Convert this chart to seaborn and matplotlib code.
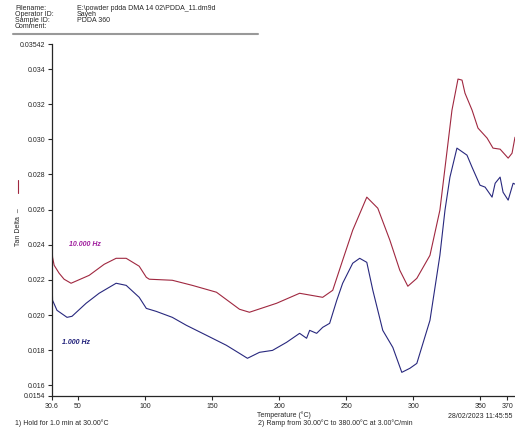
import matplotlib
matplotlib.use('Agg')
import matplotlib.pyplot as plt
import seaborn as sns
import pandas as pd
from matplotlib.lines import Line2D

# Tan delta readings from the DMA run, 10 Hz curve
temp_10hz = [30.6, 31.0, 32.2, 35.9, 39.6, 44.8, 58.3, 69.5, 78.4, 85.9, 95.6, 100.9, 103.1,
             120.3, 135.2, 153.2, 170.4, 177.8, 198.0, 215.2, 232.4, 239.9, 247.3, 254.8,
             265.3, 273.5, 282.5, 289.9, 295.9, 302.6, 312.4, 319.8, 328.8, 333.3, 336.3,
             338.5, 343.8, 348.2, 355.0, 359.4, 364.7, 370.7, 373.6, 375.8]
tan_10hz = [0.02392, 0.02329, 0.02283, 0.02238, 0.02204, 0.02181, 0.02226, 0.02289, 0.02323,
            0.02323, 0.02278, 0.02215, 0.02204, 0.02198, 0.02169, 0.02130, 0.02033, 0.02016,
            0.02067, 0.02124, 0.02101, 0.02141, 0.02312, 0.02483, 0.02671, 0.02608, 0.02426,
            0.02255, 0.02164, 0.02209, 0.02340, 0.02597, 0.03166, 0.03343, 0.03337, 0.03263,
            0.03166, 0.03064, 0.03007, 0.02950, 0.02944, 0.02893, 0.02921, 0.03012]

# 1 Hz curve
temp_1hz = [30.6, 31.0, 34.3, 41.8, 45.5, 56.0, 65.7, 78.4, 85.9, 95.6, 100.9, 108.3, 120.3,
            130.7, 145.7, 160.6, 170.4, 176.3, 185.3, 195.0, 205.5, 215.2, 220.4, 222.7,
            227.9, 232.4, 237.6, 242.9, 247.3, 254.8, 260.0, 265.3, 269.8, 277.2, 284.7,
            291.4, 297.4, 302.6, 312.4, 319.8, 323.6, 327.3, 332.5, 340.0, 343.8, 349.7,
            353.5, 358.7, 361.0, 364.7, 366.9, 370.7, 374.4, 375.8]
tan_1hz = [0.02226, 0.02084, 0.02027, 0.01987, 0.01993, 0.02067, 0.02124, 0.02181, 0.02169,
           0.02101, 0.02038, 0.02021, 0.01987, 0.01942, 0.01885, 0.01828, 0.01782, 0.01754,
           0.01788, 0.01799, 0.01845, 0.01896, 0.01868, 0.01913, 0.01896, 0.01930, 0.01953,
           0.02084, 0.02181, 0.02295, 0.02323, 0.02300, 0.02141, 0.01913, 0.01816, 0.01674,
           0.01697, 0.01725, 0.01970, 0.02340, 0.02597, 0.02785, 0.02950, 0.02910, 0.02841,
           0.02739, 0.02728, 0.02671, 0.02750, 0.02785, 0.02699, 0.02654, 0.02750, 0.02745]

# Axis ticks as printed on the instrument report
x_ticks = [30.6, 50, 100, 150, 200, 250, 300, 350, 370]
x_labels = ['30.6', '50', '100', '150', '200', '250', '300', '350', '370']
y_ticks = [0.0154, 0.016, 0.018, 0.020, 0.022, 0.024, 0.026, 0.028, 0.030, 0.032, 0.034, 0.03542]
y_labels = ['0.0154', '0.016', '0.018', '0.020', '0.022', '0.024', '0.026', '0.028',
            '0.030', '0.032', '0.034', '0.03542']

# Long form table for seaborn
df = pd.concat([
    pd.DataFrame({'temp': temp_10hz, 'tan_delta': tan_10hz, 'freq': '10.000 Hz'}),
    pd.DataFrame({'temp': temp_1hz, 'tan_delta': tan_1hz, 'freq': '1.000 Hz'}),
])

sns.set_style('ticks')
plt.rcParams['font.family'] = ['Liberation Sans', 'DejaVu Sans']

fig = plt.figure(figsize=(5.15, 4.28), dpi=100)
ax = fig.add_axes([0.101, 0.075, 0.899, 0.822])

sns.lineplot(data=df, x='temp', y='tan_delta', hue='freq', sort=False,
             palette={'10.000 Hz': '#a02840', '1.000 Hz': '#28287e'},
             linewidth=0.8, legend=False, ax=ax)

ax.set_xlim(30.6, 375.8)
ax.set_ylim(0.0154, 0.03542)
ax.set_xticks(x_ticks)
ax.set_xticklabels(x_labels)
ax.set_yticks(y_ticks)
ax.set_yticklabels(y_labels)
ax.tick_params(labelsize=5, length=3, width=0.8, pad=2)
ax.set_xlabel('Temperature (°C)', fontsize=5, labelpad=1)
ax.set_ylabel('')
sns.despine(ax=ax)
for s in ['left', 'bottom']:
    ax.spines[s].set_linewidth(0.9)

# Curve labels
ax.text(43.3, 0.02403, '10.000 Hz', color='#a01e9e', fontsize=5, fontweight='bold',
        style='italic', va='center')
ax.text(38.1, 0.01845, '1.000 Hz', color='#20207a', fontsize=5, fontweight='bold',
        style='italic', va='center')

# Y axis title with the little legend line
fig.text(0.035, 0.47, 'Tan Delta  –', rotation=90, fontsize=5, ha='center', va='center')
fig.add_artist(Line2D([0.035, 0.035], [0.55, 0.58], color='#a02840', linewidth=0.8))

# Header block
hdr = [('Filename:', 'E:\\powder pdda DMA 14 02\\PDDA_11.dm9d'),
       ('Operator ID:', 'Sayeh'),
       ('Sample ID:', 'PDDA 360'),
       ('Comment:', '')]
for i, (k, v) in enumerate(hdr):
    yy = 1 - (9 + i * 6) / 428
    fig.text(15 / 515, yy, k, fontsize=5, va='center')
    fig.text(77 / 515, yy, v, fontsize=5, va='center')
fig.add_artist(Line2D([13 / 515, 258 / 515], [1 - 34 / 428, 1 - 34 / 428],
                      color='#999999', linewidth=1.5))

# Footer
fig.text(512 / 515, 1 - 417 / 428, '28/02/2023 11:45:55', fontsize=5, ha='right', va='center')
fig.text(15 / 515, 1 - 423.5 / 428, '1) Hold for 1.0 min at 30.00°C', fontsize=5, va='center')
fig.text(258 / 515, 1 - 423.5 / 428, '2) Ramp from 30.00°C to 380.00°C at 3.00°C/min',
         fontsize=5, va='center')

fig.savefig('out.png', dpi=100)
